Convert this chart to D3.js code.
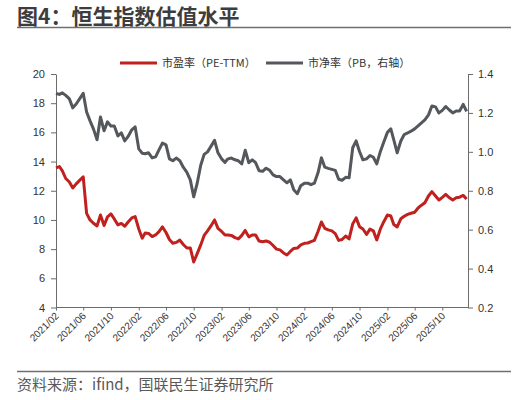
<!DOCTYPE html>
<meta charset="utf-8">
<style>
  body { margin: 0; background: #fff; }
  text { font-family: "Liberation Sans", "Noto Sans CJK SC", sans-serif; }
  .cjk { font-family: "Noto Sans CJK SC", sans-serif; }
</style>
<script src="https://d3js.org/d3.v7.min.js"></script>
<svg id="chart" width="516" height="400"></svg>
<script>

// Hang Seng valuation, semi-monthly readings from 2021/02 (1st and 16th of each month)
const peTTM = [
  13.56, 13.66, 13.36, 12.84, 12.60, 12.19, 12.47, 12.71, 12.95, 10.45,
  10.00, 9.77, 9.59, 10.34, 9.62, 10.21, 10.41, 10.07, 9.66, 9.76,
  9.57, 9.86, 10.14, 10.23, 9.38, 8.75, 9.11, 9.08, 8.86, 8.97,
  9.20, 9.52, 9.14, 8.66, 8.40, 8.46, 8.62, 8.32, 8.08, 8.08,
  7.12, 7.67, 8.29, 8.94, 9.25, 9.59, 10.00, 9.42, 9.21, 8.97,
  8.97, 8.94, 8.79, 8.70, 8.94, 9.28, 8.84, 8.97, 8.97, 8.56,
  8.51, 8.56, 8.47, 8.25, 8.00, 7.95, 7.74, 7.60, 7.84, 8.05,
  8.07, 8.29, 8.40, 8.42, 8.51, 8.60, 9.21, 9.86, 9.42, 9.32,
  9.25, 9.06, 8.60, 8.66, 8.90, 8.70, 9.73, 10.14, 9.54, 9.38,
  9.01, 9.37, 9.25, 8.63, 9.38, 9.88, 10.34, 10.27, 9.69, 9.52,
  10.08, 10.25, 10.38, 10.46, 10.53, 10.82, 11.01, 11.18, 11.64, 11.94,
  11.64, 11.37, 11.55, 11.75, 11.52, 11.37, 11.52, 11.56, 11.68, 11.44
]

const pb = [
  1.300, 1.295, 1.303, 1.290, 1.272, 1.226, 1.246, 1.272, 1.301, 1.205,
  1.159, 1.118, 1.062, 1.179, 1.108, 1.154, 1.133, 1.133, 1.082, 1.097,
  1.056, 1.079, 1.113, 1.128, 1.015, 0.993, 0.990, 0.995, 0.969, 0.974,
  1.010, 1.045, 1.036, 0.964, 0.954, 0.968, 0.954, 0.921, 0.895, 0.856,
  0.769, 0.836, 0.931, 0.987, 1.000, 1.028, 1.059, 0.995, 0.964, 0.946,
  0.964, 0.968, 0.959, 0.954, 0.938, 1.008, 0.944, 0.959, 0.944, 0.903,
  0.900, 0.916, 0.905, 0.882, 0.873, 0.873, 0.856, 0.841, 0.856, 0.805,
  0.785, 0.826, 0.839, 0.839, 0.831, 0.839, 0.892, 0.969, 0.921, 0.915,
  0.910, 0.905, 0.859, 0.854, 0.869, 0.867, 1.021, 1.056, 1.002, 0.959,
  0.964, 0.981, 0.972, 0.938, 1.002, 1.051, 1.100, 1.118, 1.062, 0.995,
  1.056, 1.089, 1.097, 1.106, 1.118, 1.133, 1.149, 1.164, 1.190, 1.236,
  1.231, 1.200, 1.213, 1.233, 1.215, 1.200, 1.210, 1.210, 1.244, 1.208
]

const xTickLabels = ["2021/02", "2021/06", "2021/10", "2022/02", "2022/06", "2022/10",
  "2023/02", "2023/06", "2023/10", "2024/02", "2024/06", "2024/10",
  "2025/02", "2025/06", "2025/10"]
const leftTicks = [4, 6, 8, 10, 12, 14, 16, 18, 20]
const rightTicks = [0.2, 0.4, 0.6, 0.8, 1.0, 1.2, 1.4]
const seriesNames = ["市盈率（PE-TTM）", "市净率（PB，右轴）"]

const titleText = "图4：恒生指数估值水平"
const sourceText = "资料来源：ifind，国联民生证券研究所"

const red = "#c0211f", grey = "#54575c", axisColor = "#6b6b6b"

const dates = peTTM.map((d, i) => new Date(Date.UTC(2021, 1 + Math.floor(i / 2), i % 2 ? 16 : 1)))
const parseTick = d3.utcParse("%Y/%m")

const svg = d3.select("#chart")

const plotLeft = 56, plotRight = 468, plotTop = 74, plotBottom = 307.5

const x = d3.scaleUtc()
  .domain([new Date(Date.UTC(2021, 1, 1)), new Date(Date.UTC(2026, 0, 16))])
  .range([plotLeft, 466.6])
const yL = d3.scaleLinear().domain([4, 20]).range([plotBottom, plotTop])
const yR = d3.scaleLinear().domain([0.2, 1.4]).range([plotBottom, plotTop])

// title + rules
svg.append("text")
  .attr("class", "cjk")
  .attr("x", 17).attr("y", 23.5)
  .attr("font-size", 21).attr("font-weight", "bold")
  .attr("fill", "#3d3d3d")
  .text(titleText)
svg.append("line")
  .attr("x1", 17).attr("x2", 511).attr("y1", 27.5).attr("y2", 27.5)
  .attr("stroke", "#6f6f6f").attr("stroke-width", 1.6)
svg.append("line")
  .attr("x1", 17).attr("x2", 511).attr("y1", 371.5).attr("y2", 371.5)
  .attr("stroke", "#6f6f6f").attr("stroke-width", 1.6)
svg.append("text")
  .attr("class", "cjk")
  .attr("x", 17).attr("y", 389.5)
  .attr("font-size", 15)
  .attr("fill", "#595959")
  .text(sourceText)

// axes
function styleAxis(g) {
  g.selectAll("path, line").attr("stroke", axisColor)
  g.selectAll("text").attr("fill", "#333").attr("font-size", 11)
    .attr("font-family", "'Liberation Sans', sans-serif")
}

svg.append("g")
  .attr("transform", `translate(${plotLeft},0)`)
  .call(d3.axisLeft(yL).tickValues(leftTicks).tickSize(5).tickSizeOuter(0).tickPadding(6))
  .call(styleAxis)

svg.append("g")
  .attr("transform", `translate(${plotRight},0)`)
  .call(d3.axisRight(yR).tickValues(rightTicks).tickSize(5).tickSizeOuter(0).tickPadding(5)
    .tickFormat(d3.format(".1f")))
  .call(styleAxis)

const xAxis = svg.append("g")
  .attr("transform", `translate(0,${plotBottom})`)
  .call(d3.axisBottom(x).tickValues(xTickLabels.map(parseTick)).tickSize(3)
    .tickFormat(d3.utcFormat("%Y/%m")))
  .call(styleAxis)
xAxis.select(".domain").remove()
xAxis.append("line")
  .attr("x1", plotLeft).attr("x2", plotRight)
  .attr("stroke", axisColor)
xAxis.selectAll(".tick text")
  .attr("font-size", 10)
  .attr("text-anchor", "end")
  .attr("dy", null)
  .attr("transform", "translate(3,9) rotate(-45)")
  .attr("y", 0).attr("x", 0)

// series
const pbLine = d3.line().x((d, i) => x(dates[i])).y(d => yR(d))
const peLine = d3.line().x((d, i) => x(dates[i])).y(d => yL(d))

svg.append("path")
  .datum(pb)
  .attr("d", pbLine)
  .attr("fill", "none").attr("stroke", grey)
  .attr("stroke-width", 3).attr("stroke-linejoin", "round")

svg.append("path")
  .datum(peTTM)
  .attr("d", peLine)
  .attr("fill", "none").attr("stroke", red)
  .attr("stroke-width", 3).attr("stroke-linejoin", "round")

// legend
const legend = svg.append("g").attr("class", "legend")
const legendItems = [
  { name: seriesNames[0], color: red, x: 120 },
  { name: seriesNames[1], color: grey, x: 266 }
]
legendItems.forEach(item => {
  legend.append("line")
    .attr("x1", item.x).attr("x2", item.x + 37)
    .attr("y1", 63).attr("y2", 63)
    .attr("stroke", item.color).attr("stroke-width", 3)
  legend.append("text")
    .attr("class", "cjk")
    .attr("x", item.x + 42).attr("y", 67)
    .attr("font-size", 11).attr("fill", "#333")
    .text(item.name)
})

</script>
